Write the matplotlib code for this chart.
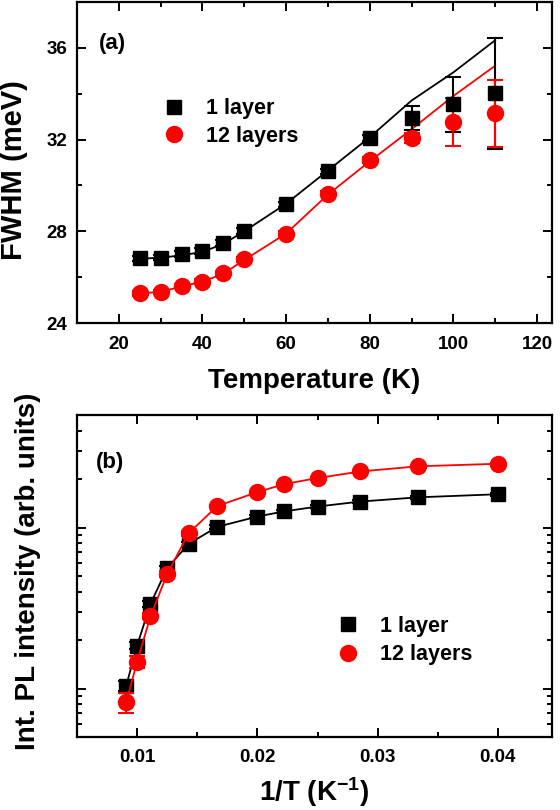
import matplotlib
matplotlib.use("Agg")
import matplotlib.pyplot as plt
from matplotlib.ticker import MultipleLocator, LogLocator, NullFormatter
from matplotlib.lines import Line2D
import numpy as np

plt.rcParams['font.family'] = ['Liberation Sans', 'DejaVu Sans']
plt.rcParams['font.weight'] = 'bold'
plt.rcParams['mathtext.fontset'] = 'custom'
plt.rcParams['mathtext.rm'] = 'Liberation Sans:bold'
plt.rcParams['mathtext.bf'] = 'Liberation Sans:bold'
plt.rcParams['mathtext.it'] = 'Liberation Sans:bold'

# ---------------- data: panel (a) ----------------
temperature = [25, 30, 35, 40, 45, 50, 60, 70, 80, 90, 100, 110]
fwhm_1layer = [26.82, 26.85, 27.02, 27.14, 27.49, 28.01, 29.17, 30.61, 32.07, 32.94, 33.55, 34.01]
fwhm_1layer_err = [0.12, 0.12, 0.12, 0.12, 0.12, 0.12, 0.12, 0.12, 0.15, 0.53, 1.2, 2.4]
fwhm_12layers = [25.29, 25.35, 25.61, 25.80, 26.16, 26.78, 27.90, 29.64, 31.12, 32.07, 32.78, 33.14]
fwhm_12layers_err = [0.1, 0.1, 0.1, 0.1, 0.1, 0.1, 0.1, 0.1, 0.12, 0.2, 1.05, 1.47]
fit_1layer = [26.80, 26.85, 26.95, 27.10, 27.45, 28.00, 29.20, 30.65, 32.10, 33.70, 34.93, 36.33]
fit_12layers = [25.30, 25.35, 25.60, 25.80, 26.15, 26.75, 27.90, 29.60, 31.05, 32.45, 33.90, 35.22]

# ---------------- data: panel (b) ----------------
inv_T = [1/110, 1/100, 1/90, 1/80, 1/70, 1/60, 1/50, 1/45, 1/40, 1/35, 1/30, 1/25]
pl_1layer = [1.04, 1.85, 3.36, 5.59, 7.92, 10.1, 11.7, 12.6, 13.5, 14.5, 15.4, 16.1]
pl_1layer_err = [0.08, 0.1, 0.15, 0.2, 0.25, 0.3, 0.3, 0.3, 0.3, 0.3, 0.3, 0.3]
pl_12layers = [0.82, 1.47, 2.81, 5.15, 9.22, 13.6, 16.6, 18.6, 20.3, 22.3, 24.0, 24.9]
pl_12layers_err = [0.12, 0.13, 0.12, 0.2, 0.3, 0.3, 0.3, 0.3, 0.3, 0.3, 0.3, 0.3]

labels = ['1 layer', '12 layers']
RED = '#ff0000'
BLACK = '#000000'

fig = plt.figure(figsize=(5.6, 8.1), dpi=100)
ax1 = fig.add_axes([77/560, 1-323/810, 475/560, 321/810])
ax2 = fig.add_axes([77/560, 1-737/810, 475/560, 322/810])

ms_sq = 10.5
ms_ci = 11.5

def legend_handles():
    return [Line2D([], [], ls='none', marker='s', ms=ms_sq, color=BLACK),
            Line2D([], [], ls='none', marker='o', ms=ms_ci, color=RED)]

# panel (a)
ax1.plot(temperature, fit_1layer, '-', color=BLACK, lw=1.3, zorder=2)
ax1.plot(temperature, fit_12layers, '-', color=RED, lw=1.3, zorder=2)
ax1.errorbar(temperature, fwhm_1layer, yerr=fwhm_1layer_err, fmt='s', color=BLACK,
             ms=ms_sq, capsize=6, elinewidth=1.5, capthick=1.5, zorder=3)
ax1.errorbar(temperature, fwhm_12layers, yerr=fwhm_12layers_err, fmt='o', color=RED,
             ms=ms_ci, capsize=6, elinewidth=1.5, capthick=1.5, zorder=3)
ax1.set_xlim(10, 123.6)
ax1.set_ylim(24, 38)
ax1.xaxis.set_major_locator(MultipleLocator(20))
ax1.xaxis.set_minor_locator(MultipleLocator(10))
ax1.yaxis.set_major_locator(MultipleLocator(4))
ax1.yaxis.set_minor_locator(MultipleLocator(2))
ax1.set_xlabel('Temperature (K)', fontsize=20, fontweight='bold', labelpad=11)
ax1.set_ylabel('FWHM (meV)', fontsize=21, fontweight='bold')
ax1.yaxis.set_label_coords(-0.103, 0.477)
ax1.text(0.046, 0.872, '(a)', transform=ax1.transAxes, fontsize=16, fontweight='bold',
         va='center', ha='left')
ax1.legend(legend_handles(), labels, loc='upper left', bbox_to_anchor=(0.163, 0.727),
           borderaxespad=0, frameon=False, fontsize=15.5, handlelength=1.0,
           handletextpad=1.0, labelspacing=0.3, numpoints=1)

# panel (b)
ax2.errorbar(inv_T, pl_1layer, yerr=pl_1layer_err, fmt='-s', color=BLACK, lw=1.3,
             ms=ms_sq, capsize=6, elinewidth=1.5, capthick=1.5, zorder=3)
ax2.errorbar(inv_T, pl_12layers, yerr=pl_12layers_err, fmt='-o', color=RED, lw=1.3,
             ms=ms_ci, capsize=6, elinewidth=1.5, capthick=1.5, zorder=4)
ax2.set_yscale('log')
ax2.set_xlim(0.005, 0.0445)
ax2.set_ylim(0.5, 50)
ax2.xaxis.set_major_locator(MultipleLocator(0.01))
ax2.xaxis.set_minor_locator(MultipleLocator(0.005))
ax2.yaxis.set_major_locator(LogLocator(base=10, numticks=10))
ax2.yaxis.set_minor_locator(LogLocator(base=10, subs=np.arange(2, 10), numticks=20))
ax2.yaxis.set_major_formatter(NullFormatter())
ax2.yaxis.set_minor_formatter(NullFormatter())
ax2.set_xticks([0.01, 0.02, 0.03, 0.04])
ax2.set_xticklabels(['0.01', '0.02', '0.03', '0.04'])
ax2.set_xlabel(r'1/T (K$^{\mathbf{-1}}$)', fontsize=20, fontweight='bold', labelpad=6)
ax2.set_ylabel('Int. PL intensity (arb. units)', fontsize=20, fontweight='bold')
ax2.yaxis.set_label_coords(-0.076, 0.515)
ax2.text(0.04, 0.851, '(b)', transform=ax2.transAxes, fontsize=16, fontweight='bold',
         va='center', ha='left')
ax2.legend(legend_handles(), labels, loc='upper left', bbox_to_anchor=(0.53, 0.403),
           borderaxespad=0, frameon=False, fontsize=15.5, handlelength=1.0,
           handletextpad=1.0, labelspacing=0.35, numpoints=1)

for ax in (ax1, ax2):
    for s in ax.spines.values():
        s.set_linewidth(1.6)
    ax.tick_params(which='both', direction='in', top=True, right=True, width=1.4)
    ax.tick_params(which='major', length=6.5, labelsize=13.5, pad=7)
    ax.tick_params(which='minor', length=3.8)
    ax.tick_params(axis='x', which='major', pad=9)
    for lab in ax.get_xticklabels() + ax.get_yticklabels():
        lab.set_fontweight('bold')

fig.savefig('out.png', dpi=100)
